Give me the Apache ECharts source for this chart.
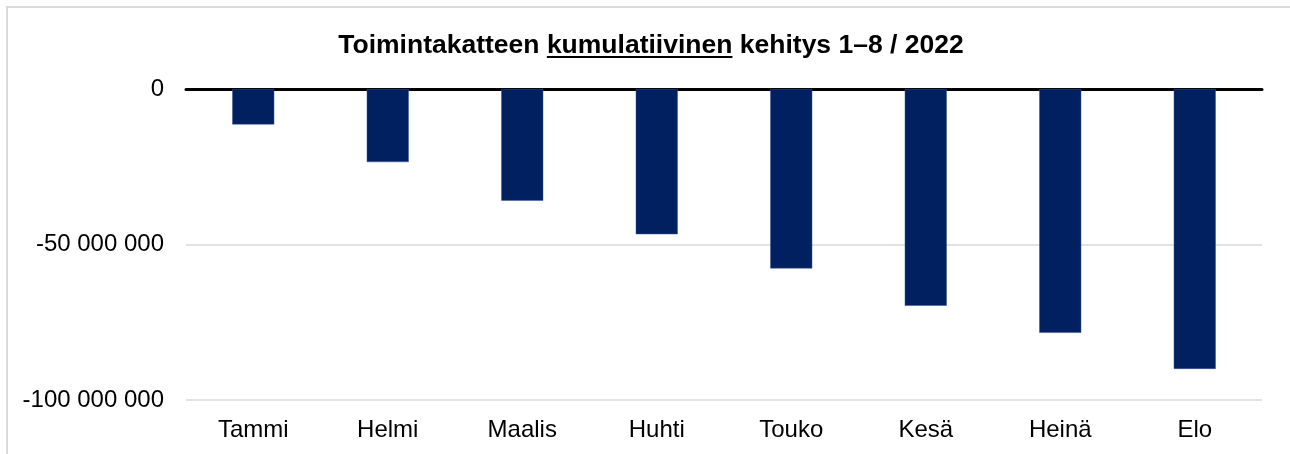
<!DOCTYPE html>
<html>
<head>
<meta charset="utf-8">
<script src="https://cdn.jsdelivr.net/npm/echarts@6/dist/echarts.min.js"></script>
<style>
  html, body { margin: 0; padding: 0; background: #fff; overflow: hidden; }
  #frame {
    position: absolute; left: 6px; top: 6px; width: 1400px; height: 600px;
    border: 2px solid #d9d9d9; box-sizing: border-box;
  }
  #title {
    position: absolute; left: 0; top: 28px; width: 1302px; text-align: center;
    font-family: 'Liberation Sans', Arial, sans-serif; font-weight: bold; font-size: 26.5px;
    color: #000; margin: 0; line-height: 32px;
  }
  #title u { text-decoration-thickness: 2px; text-underline-offset: 3px; }
  #chart { position: absolute; left: 0; top: 0; width: 1290px; height: 454px; }
</style>
</head>
<body>
<div id="frame"></div>
<div id="chart"></div>
<p id="title">Toimintakatteen <u>kumulatiivinen</u> kehitys 1–8 / 2022</p>
<script>
// kuukaudet
const months = ['Tammi', 'Helmi', 'Maalis', 'Huhti', 'Touko', 'Kesä', 'Heinä', 'Elo']
// kumulatiivinen toimintakate (euroa), luettu kuvasta
const values = [-11400000, -23500000, -35900000, -46700000, -57700000, -69700000, -78400000, -90000000]
// y-akselin asteikko
const yMin = -100000000
const yMax = 0
const yStep = 50000000

const font = "'Liberation Sans', Arial, sans-serif"

// tuhaterotin välilyönnillä
function fmt(v) {
  const s = Math.abs(v).toString().replace(/\B(?=(\d{3})+(?!\d))/g, ' ')
  return (v < 0 ? '-' : '') + s
}

const mycharts = echarts.init(document.getElementById('chart'))
const option = {
  animation: false,
  grid: { left: 186, right: 28, top: 89, bottom: 54 },
  xAxis: [
    {
      type: 'category',
      data: months,
      position: 'bottom',
      axisLine: { show: false },
      axisTick: { show: false },
      axisLabel: { color: '#000', fontSize: 24, fontFamily: font, margin: 18 },
    },
    {
      // nollaviiva ylhäällä
      type: 'category',
      data: months,
      position: 'top',
      axisLine: { show: true, onZero: false, lineStyle: { color: '#000', width: 3 } },
      axisTick: { show: false },
      axisLabel: { show: false },
    },
  ],
  yAxis: {
    type: 'value',
    min: yMin,
    max: yMax,
    interval: yStep,
    axisLine: { show: false },
    axisTick: { show: false },
    axisLabel: { color: '#000', fontSize: 24, fontFamily: font, margin: 22, formatter: fmt },
    splitLine: { lineStyle: { color: '#d9d9d9', width: 1.5 } },
  },
  series: [
    {
      type: 'bar',
      data: values,
      barWidth: 42,
      itemStyle: { color: '#002060', borderColor: '#3a5590', borderWidth: 0.5 },
    },
  ],
}
mycharts.setOption(option)
</script>
</body>
</html>
